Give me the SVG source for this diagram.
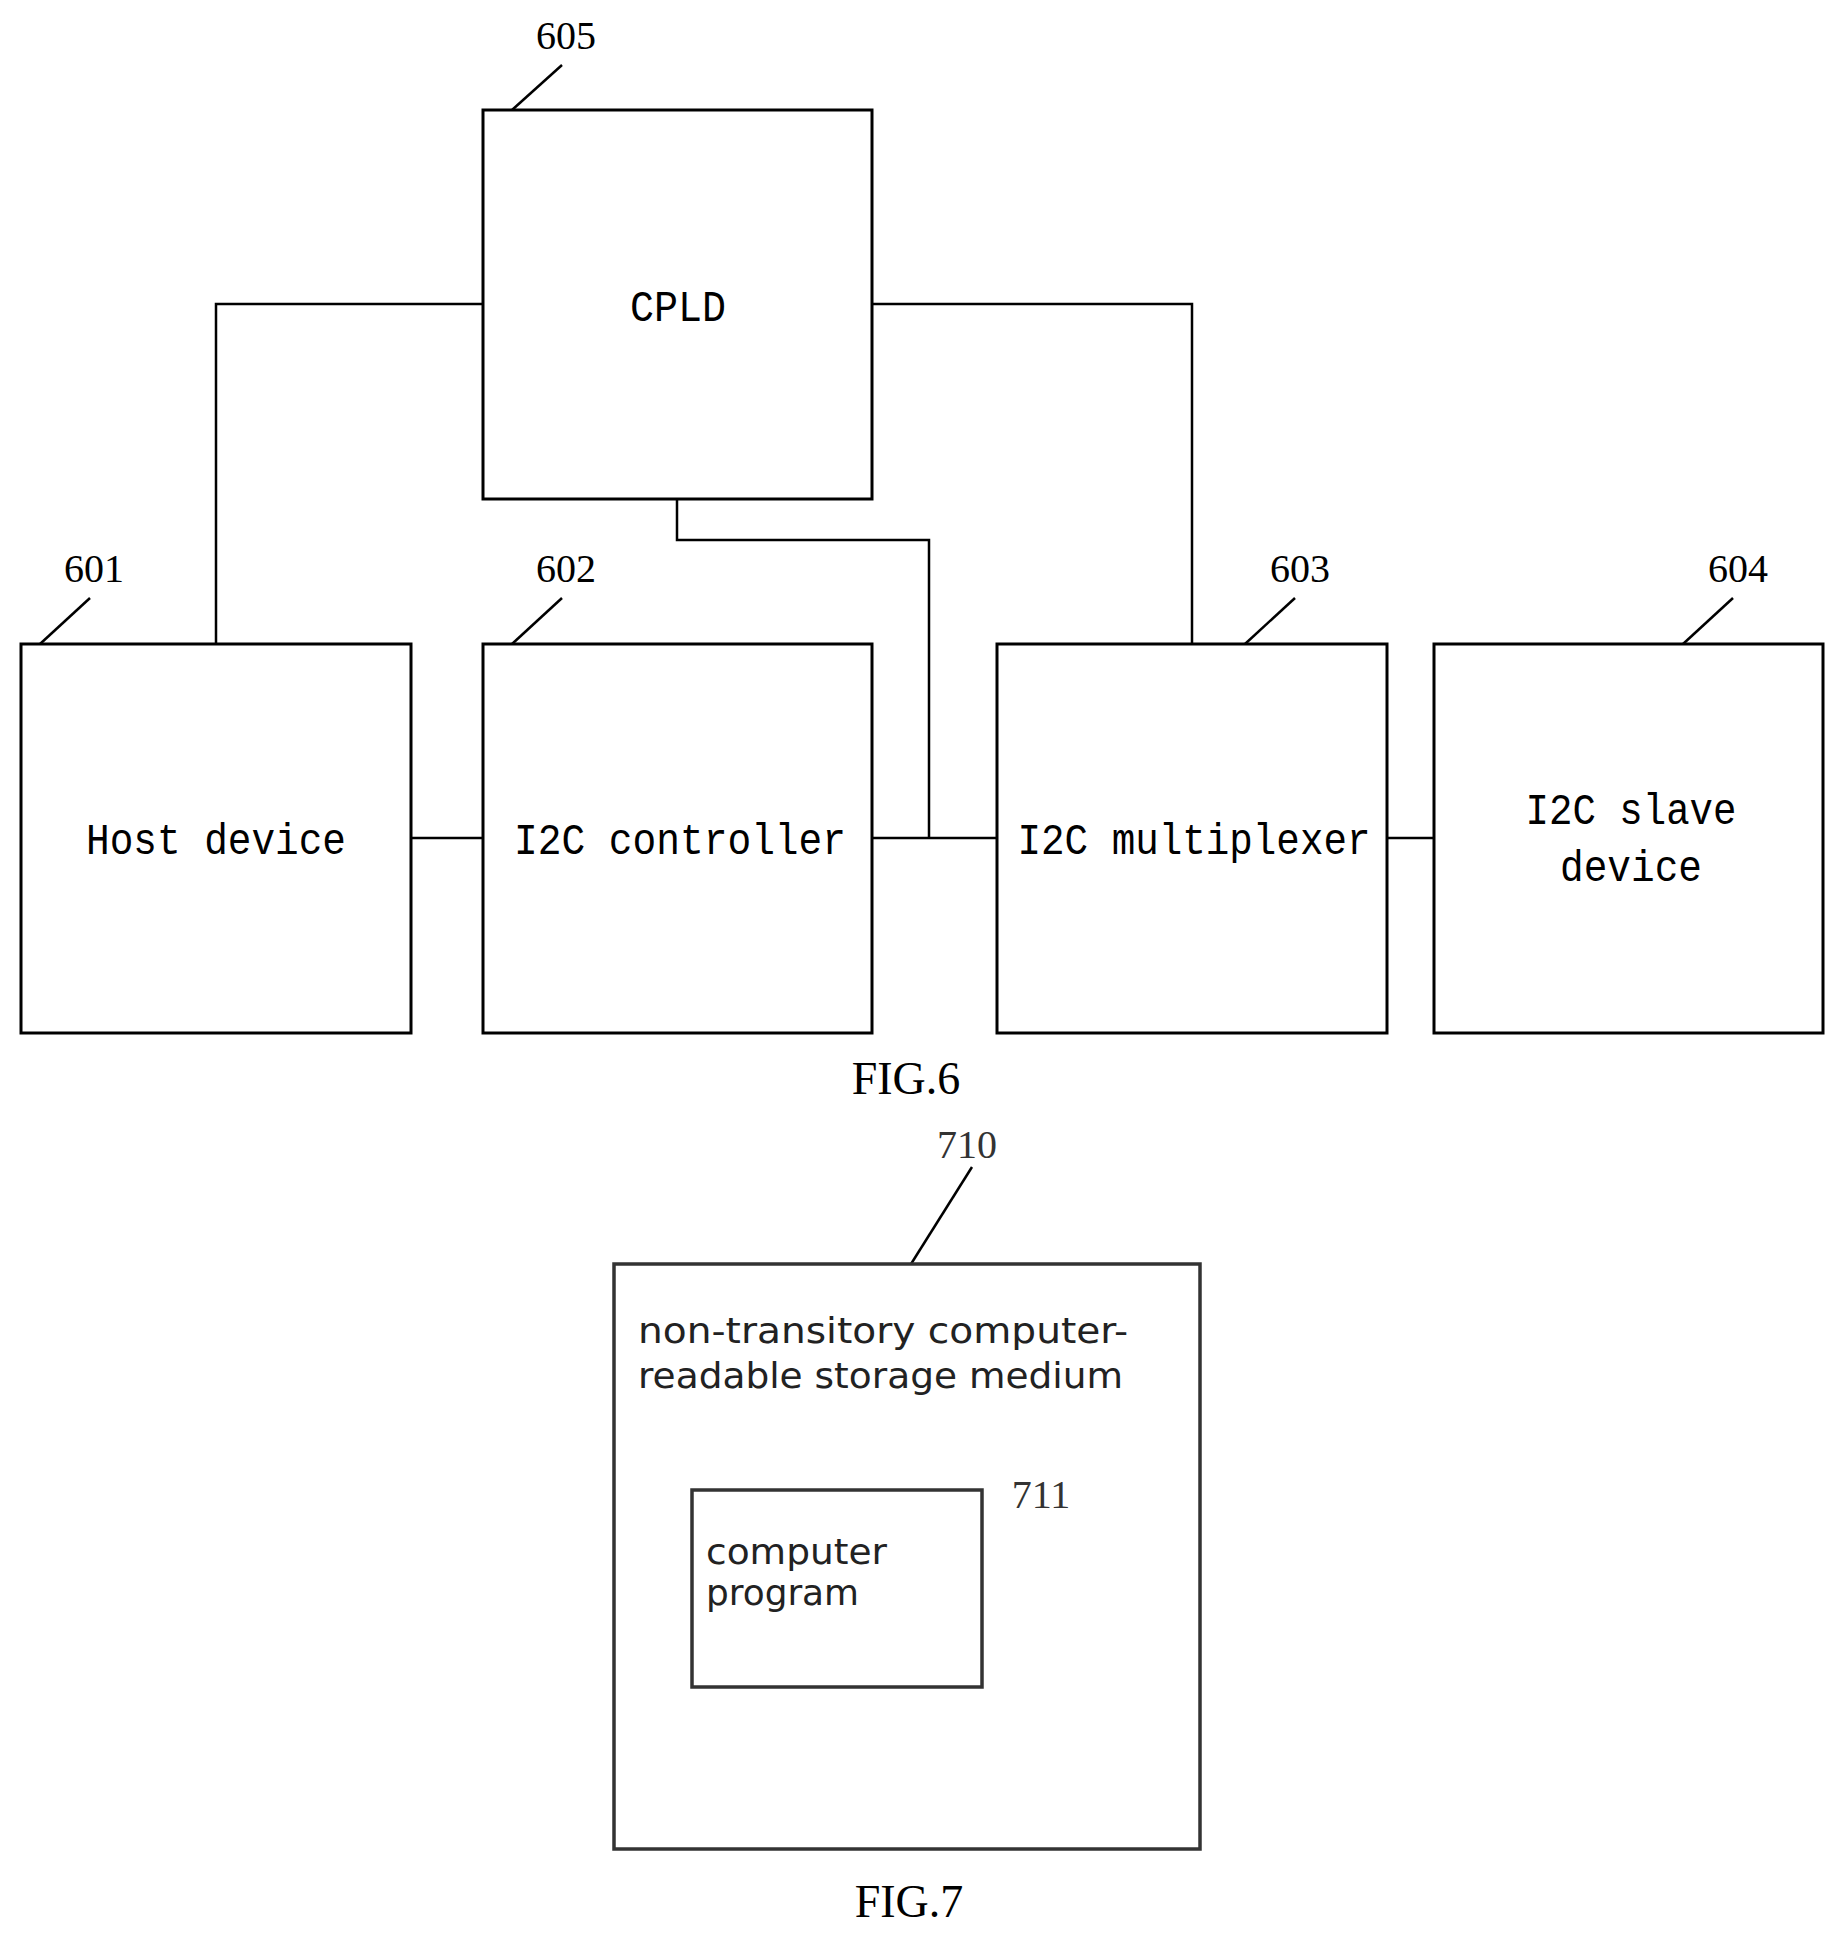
<svg xmlns="http://www.w3.org/2000/svg" width="1846" height="1937" viewBox="0 0 1846 1937">
<style>
.box{fill:#fff;stroke:#000;stroke-width:3}
.gbox{fill:#fff;stroke:#333;stroke-width:3.5}
.ln{fill:none;stroke:#000;stroke-width:2.5}
.mono{font-family:"Liberation Mono",monospace;font-size:44px;text-anchor:middle}
.num{font-family:"Liberation Serif",serif;font-size:40px;text-anchor:middle}
.sans{font-family:"DejaVu Sans",sans-serif;font-size:36px;fill:#222}
.fig{font-family:"Liberation Serif",serif;font-size:46px;text-anchor:middle}
</style>
<rect width="1846" height="1937" fill="#fff"/>
<g id="connectors">
<polyline class="ln" points="216,644 216,304 483,304"/>
<polyline class="ln" points="872,304 1192,304 1192,644"/>
<polyline class="ln" points="677,499 677,540 929,540 929,838"/>
<line class="ln" x1="411" y1="838" x2="483" y2="838"/>
<line class="ln" x1="872" y1="838" x2="997" y2="838"/>
<line class="ln" x1="1387" y1="838" x2="1434" y2="838"/>
<line class="ln" x1="562" y1="65" x2="512" y2="110"/>
<line class="ln" x1="90" y1="598" x2="40" y2="644"/>
<line class="ln" x1="562" y1="598" x2="512" y2="644"/>
<line class="ln" x1="1295" y1="598" x2="1245" y2="644"/>
<line class="ln" x1="1733" y1="598" x2="1683" y2="644"/>
<line class="ln" x1="972" y1="1167" x2="911" y2="1264" stroke-width="3.5"/>
<line class="ln" x1="1048" y1="1519" x2="982" y2="1613" stroke-width="3.5"/>
</g>
<g id="n605"><rect class="box" x="483" y="110" width="389" height="389"/><text class="mono" x="678" y="321" textLength="96" lengthAdjust="spacingAndGlyphs">CPLD</text><text class="num" x="566" y="49">605</text></g>
<g id="n601"><rect class="box" x="21" y="644" width="390" height="389"/><text class="mono" x="216" y="854" textLength="260" lengthAdjust="spacingAndGlyphs">Host device</text><text class="num" x="94" y="582">601</text></g>
<g id="n602"><rect class="box" x="483" y="644" width="389" height="389"/><text class="mono" x="680" y="854" textLength="332" lengthAdjust="spacingAndGlyphs">I2C controller</text><text class="num" x="566" y="582">602</text></g>
<g id="n603"><rect class="box" x="997" y="644" width="390" height="389"/><text class="mono" x="1194" y="854" textLength="353" lengthAdjust="spacingAndGlyphs">I2C multiplexer</text><text class="num" x="1300" y="582">603</text></g>
<g id="n604"><rect class="box" x="1434" y="644" width="389" height="389"/><text class="mono" x="1631" y="824" textLength="211" lengthAdjust="spacingAndGlyphs">I2C slave</text><text class="mono" x="1631" y="881" textLength="142" lengthAdjust="spacingAndGlyphs">device</text><text class="num" x="1738" y="582">604</text></g>
<text class="fig" x="906" y="1094">FIG.6</text>
<g id="n710"><rect class="gbox" x="614" y="1264" width="586" height="585"/><text class="sans" x="638" y="1343" textLength="490" lengthAdjust="spacingAndGlyphs">non-transitory computer-</text><text class="sans" x="638" y="1388" textLength="485" lengthAdjust="spacingAndGlyphs">readable storage medium</text><text class="num" x="967" y="1158" font-size="50" fill="#333">710</text></g>
<g id="n711"><rect class="gbox" x="692" y="1490" width="290" height="197"/><text class="sans" x="706" y="1564" textLength="181" lengthAdjust="spacingAndGlyphs">computer</text><text class="sans" x="706" y="1605" textLength="153" lengthAdjust="spacingAndGlyphs">program</text><text class="num" x="1041" y="1508" font-size="50" fill="#333">711</text></g>
<text class="fig" x="909" y="1917">FIG.7</text>
</svg>
